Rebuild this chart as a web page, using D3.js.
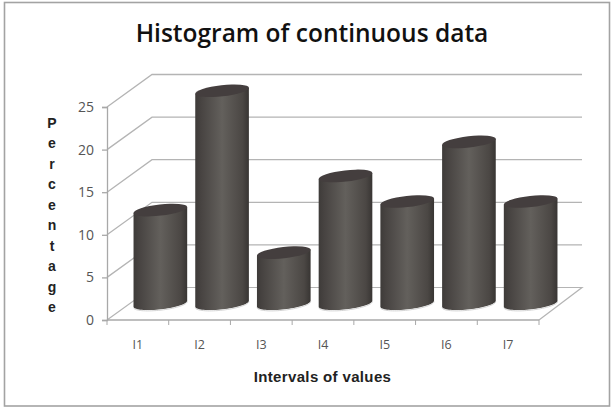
<!DOCTYPE html>
<html><head><meta charset="utf-8">
<script src="https://cdn.jsdelivr.net/npm/d3@7"></script>
<style>html,body{margin:0;padding:0;background:#fff}svg{display:block}text{font-family:"Open Sans",sans-serif}</style>
</head><body><svg id="c" width="612" height="408"></svg>
<script>
const categories=["I1","I2","I3","I4","I5","I6","I7"];
const percentages=[11,25,6,15,12,19,12];
const yTicks=[0,5,10,15,20,25];
const titleText="Histogram of continuous data";
const xTitle="Intervals of values";
const yTitle="Percentage".split("");

const svg=d3.select("#c");
svg.append("rect").attr("x",4.5).attr("y",2.5).attr("width",605).attr("height",403.5).attr("fill","#fff").attr("stroke","#a3a3a3").attr("stroke-width",1.6);

const y=d3.scaleLinear().domain([0,25]).range([320,107]);
const xFront=d3.scaleBand().domain(categories).range([107,539]);
const depthX=45,depthY=32.5,gridColor="#b4b4b4";
const xMid=d3.scaleBand().domain(categories).range([107+depthX/2,539+depthX/2]);

const defs=svg.append("defs");
const grad=defs.append("linearGradient").attr("id","cyl");
[[0,"#3e3b39"],[0.1,"#474341"],[0.5,"#63605c"],[0.88,"#4b4744"],[1,"#383533"]].forEach(s=>grad.append("stop").attr("offset",s[0]).attr("stop-color",s[1]));

const poly=d3.line();
svg.append("g").selectAll("path").data(yTicks.slice(1)).join("path")
 .attr("d",v=>poly([[107,y(v)],[107+depthX,y(v)-depthY],[582,y(v)-depthY]]))
 .attr("fill","none").attr("stroke",gridColor).attr("stroke-width",1.3);
svg.append("path").attr("d",poly([[107,y(0)],[107+depthX,y(0)-depthY],[582,y(0)-depthY],[539,y(0)]]))
 .attr("fill","none").attr("stroke",gridColor).attr("stroke-width",1.2);

const axL=svg.append("g").attr("transform","translate(107,0)").call(d3.axisLeft(y).tickValues(yTicks).tickSize(5).tickPadding(8));
axL.selectAll("path,line").attr("stroke","#a8a8a8").attr("stroke-width",1.3);
axL.selectAll("text").attr("fill","#555").attr("font-size",14);
const axB=svg.append("g").attr("transform","translate(0,320)").call(d3.axisBottom(xFront).tickSize(0).tickPadding(20));
axB.select("path").attr("stroke","#a8a8a8").attr("stroke-width",1.3).attr("d","M107,0H539");
axB.selectAll("text").attr("fill","#555").attr("font-size",12.5);
svg.append("g").selectAll("line").data(d3.range(0,8)).join("line")
 .attr("x1",i=>107+i*xFront.step()).attr("x2",i=>107+i*xFront.step()).attr("y1",320).attr("y2",325)
 .attr("stroke","#a8a8a8").attr("stroke-width",1);

const rx=27,ry=5.6,tilt=6.5*Math.PI/180,midBase=y(0)-depthY/2;
const h=v=>y(0)-y(v);
const cxOf=c=>xMid(c)+xMid.bandwidth()/2;
const rim=(cx,cy,a)=>{
  const px=rx*Math.cos(a),py=ry*Math.sin(a);
  return [cx+px*Math.cos(tilt)+py*Math.sin(tilt),cy-px*Math.sin(tilt)+py*Math.cos(tilt)];
};
const angles=d3.range(0,37).map(k=>k*Math.PI/36);
const bars=svg.append("g").selectAll("g").data(categories).join("g");
bars.append("path").attr("fill","url(#cyl)").attr("d",(c,i)=>{
  const cx=cxOf(c),t=midBase-h(percentages[i]);
  const bottom=angles.map(a=>rim(cx,midBase,a));
  return poly([rim(cx,t,0),...bottom,rim(cx,t,Math.PI)])+"Z";
});
bars.append("path").attr("fill","none").attr("stroke","#c9c9c9").attr("stroke-width",0.8)
 .attr("d",c=>poly(angles.map(a=>rim(cxOf(c),midBase+0.8,a))));
bars.append("ellipse").attr("fill","#443e3e")
 .attr("rx",rx).attr("ry",ry)
 .attr("transform",(c,i)=>`translate(${cxOf(c)},${midBase-h(percentages[i])}) rotate(-6.5)`);

svg.append("text").attr("x",312).attr("y",42).attr("text-anchor","middle").attr("font-size",24.5).attr("font-weight",600).attr("fill","#111").text(titleText);
svg.append("text").attr("x",322.5).attr("y",381.5).attr("text-anchor","middle").attr("font-size",15).attr("letter-spacing",0.35).attr("font-weight",700).attr("fill","#222").style("font-family","'Liberation Sans',sans-serif").text(xTitle);
svg.append("g").selectAll("text").data(yTitle).join("text")
 .attr("x",52).attr("y",(d,i)=>128+i*20.45).attr("text-anchor","middle").attr("font-size",14).attr("font-weight",700).attr("fill","#222").style("font-family","'Liberation Sans',sans-serif").text(d=>d);
</script></body></html>
